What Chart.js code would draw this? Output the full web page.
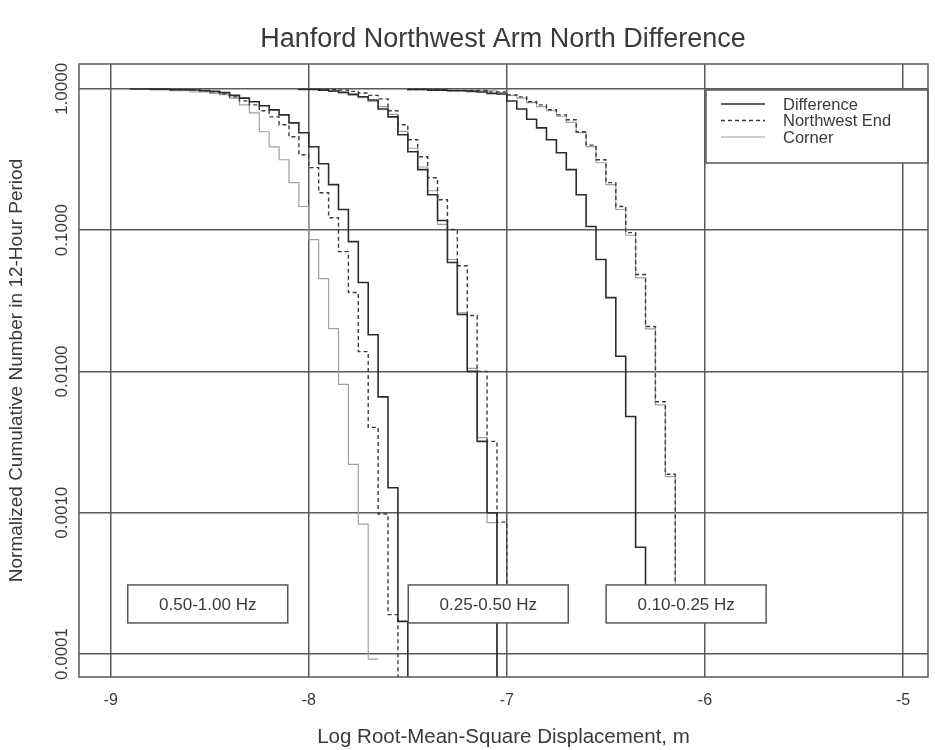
<!DOCTYPE html>
<html><head><meta charset="utf-8">
<script src="https://cdn.jsdelivr.net/npm/chart.js@4.4.1/dist/chart.umd.min.js"></script>
<style>html,body{margin:0;padding:0;background:#fff}</style>
</head><body>
<canvas id="c" width="935" height="750"></canvas>
<script>
// ---------- data ----------
const chartTitle = 'Hanford Northwest Arm North Difference';
const xTitle = 'Log Root-Mean-Square Displacement, m';
const yTitle = 'Normalized Cumulative Number in 12-Hour Period';
const xTicks = [-9, -8, -7, -6, -5];
const yTicks = [0.0001, 0.001, 0.01, 0.1, 1];
const yTickLabels = ['0.0001', '0.0010', '0.0100', '0.1000', '1.0000'];
const seriesNames = ['Difference', 'Northwest End', 'Corner'];
const bandLabels = ['0.50-1.00 Hz', '0.25-0.50 Hz', '0.10-0.25 Hz'];
const bandLabelX = [-8.51, -7.094, -6.095];
const bandLabelY = 0.000226;

// 0.50-1.00 Hz
const hiDiffX = [-8.90,-8.80,-8.70,-8.60,-8.55,-8.50,-8.45,-8.40,-8.35,-8.30,-8.25,-8.20,-8.15,-8.10,-8.05,-8.00,-7.95,-7.90,-7.85,-7.80,-7.75,-7.70,-7.65,-7.60,-7.55,-7.50,-7.45];
const hiDiffY = [1.0,0.997,0.993,0.987,0.981,0.972,0.96,0.94,0.90,0.86,0.81,0.76,0.71,0.655,0.575,0.489,0.389,0.295,0.21,0.14,0.083,0.0426,0.0182,0.0066,0.0015,0.00017,0.000001];
const hiNwX = [-8.80,-8.70,-8.60,-8.55,-8.50,-8.45,-8.40,-8.35,-8.30,-8.25,-8.20,-8.15,-8.10,-8.05,-8.00,-7.95,-7.90,-7.85,-7.80,-7.75,-7.70,-7.65,-7.60,-7.55,-7.50];
const hiNwY = [1.0,0.995,0.99,0.984,0.968,0.952,0.922,0.878,0.823,0.77,0.70,0.634,0.557,0.458,0.342,0.277,0.184,0.1225,0.0705,0.0362,0.0138,0.00402,0.00098,0.00019,0.000001];
const hiCoX = [-8.90,-8.80,-8.70,-8.60,-8.50,-8.45,-8.40,-8.35,-8.30,-8.25,-8.20,-8.15,-8.10,-8.05,-8.00,-7.95,-7.90,-7.85,-7.80,-7.75,-7.70,-7.65];
const hiCoY = [1.0,0.993,0.985,0.97,0.95,0.93,0.91,0.86,0.77,0.677,0.497,0.389,0.315,0.217,0.147,0.0857,0.0454,0.0201,0.0081,0.0022,0.00083,0.000092];

// 0.25-0.50 Hz
const midDiffX = [-8.05,-7.95,-7.90,-7.85,-7.80,-7.75,-7.70,-7.65,-7.60,-7.55,-7.50,-7.45,-7.40,-7.35,-7.30,-7.25,-7.20,-7.15,-7.10,-7.05,-7.00];
const midDiffY = [1.0,0.99,0.98,0.965,0.945,0.915,0.88,0.835,0.72,0.634,0.473,0.359,0.268,0.178,0.117,0.059,0.0253,0.01,0.0032,0.001,0.000001];
const midNwX = [-7.95,-7.85,-7.80,-7.75,-7.70,-7.65,-7.60,-7.55,-7.50,-7.45,-7.40,-7.35,-7.30,-7.25,-7.20,-7.15,-7.10,-7.05,-7.00,-6.95];
const midNwY = [1.0,0.99,0.98,0.96,0.935,0.90,0.85,0.70,0.557,0.436,0.331,0.235,0.164,0.101,0.056,0.0249,0.01,0.0032,0.000857,0.00024];
const midCoX = [-8.05,-7.95,-7.90,-7.85,-7.80,-7.75,-7.70,-7.65,-7.60,-7.55,-7.50,-7.45,-7.40,-7.35,-7.30,-7.25,-7.20,-7.15,-7.10,-7.05,-7.00];
const midCoY = [1.0,0.99,0.975,0.96,0.94,0.905,0.865,0.815,0.75,0.66,0.50,0.38,0.28,0.19,0.11,0.062,0.026,0.0105,0.0034,0.00085,0.000001];

// 0.10-0.25 Hz
const loDiffX = [-7.50,-7.40,-7.30,-7.20,-7.15,-7.10,-7.05,-7.00,-6.95,-6.90,-6.85,-6.80,-6.75,-6.70,-6.65,-6.60,-6.55,-6.50,-6.45,-6.40,-6.35,-6.30,-6.25];
const loDiffY = [1.0,0.99,0.98,0.97,0.96,0.95,0.93,0.92,0.82,0.72,0.61,0.53,0.436,0.353,0.268,0.178,0.106,0.062,0.0333,0.0128,0.0048,0.00057,0.00025];
const loNwX = [-7.50,-7.30,-7.10,-7.00,-6.95,-6.90,-6.85,-6.80,-6.75,-6.70,-6.65,-6.60,-6.55,-6.50,-6.45,-6.40,-6.35,-6.30,-6.25,-6.20,-6.15,-6.10];
const loNwY = [1.0,0.99,0.975,0.952,0.907,0.878,0.81,0.77,0.711,0.655,0.604,0.497,0.40,0.315,0.217,0.147,0.096,0.0485,0.0208,0.0061,0.00187,0.00025];
const loCoX = [-7.50,-7.20,-7.05,-7.00,-6.95,-6.90,-6.85,-6.80,-6.75,-6.70,-6.65,-6.60,-6.55,-6.50,-6.45,-6.40,-6.35,-6.30,-6.25,-6.20,-6.15,-6.10];
const loCoY = [1.0,0.99,0.97,0.94,0.90,0.86,0.80,0.75,0.70,0.64,0.58,0.49,0.39,0.30,0.21,0.14,0.092,0.046,0.02,0.0058,0.0018,0.00025];

// ---------- build ----------
const FONT = '"Liberation Sans", Arial, Helvetica, sans-serif';
const TXT = '#3a3a3a';
const GRID = '#5a5a5a';
const styles = [
  {borderColor:'#2c2c2c', borderWidth:1.6, borderDash:[]},
  {borderColor:'#3c3c3c', borderWidth:1.4, borderDash:[4,3]},
  {borderColor:'#a0a0a0', borderWidth:1.2, borderDash:[]}
];
const pts = (xs, ys) => xs.map((x, i) => ({x: x, y: ys[i]}));
const bands = [
  [[hiDiffX, hiDiffY], [hiNwX, hiNwY], [hiCoX, hiCoY]],
  [[midDiffX, midDiffY], [midNwX, midNwY], [midCoX, midCoY]],
  [[loDiffX, loDiffY], [loNwX, loNwY], [loCoX, loCoY]]
];
const datasets = [];
[0, 1, 2].forEach(s => {
  bands.forEach(b => {
    datasets.push(Object.assign({
      label: seriesNames[s],
      data: pts(b[s][0], b[s][1]),
      stepped: 'after',
      pointRadius: 0,
      fill: false,
      tension: 0
    }, styles[s]));
  });
});

const decorPlugin = {
  id: 'decor',
  afterDatasetsDraw(chart) {
    const ctx = chart.ctx, ca = chart.chartArea;
    const xs = chart.scales.x, ys = chart.scales.y;
    ctx.save();
    // title
    ctx.font = '27px ' + FONT;
    ctx.textAlign = 'center';
    ctx.textBaseline = 'middle';
    ctx.fillStyle = TXT;
    ctx.fillText(chartTitle, 503, 40);
    // band label boxes
    ctx.font = '17px ' + FONT;
    bandLabels.forEach((t, i) => {
      const cx = xs.getPixelForValue(bandLabelX[i]);
      const cy = ys.getPixelForValue(bandLabelY);
      const w = 160, h = 38;
      ctx.fillStyle = '#fff';
      ctx.fillRect(cx - w / 2, cy - h / 2, w, h);
      ctx.strokeStyle = GRID; ctx.lineWidth = 1.5;
      ctx.strokeRect(cx - w / 2, cy - h / 2, w, h);
      ctx.fillStyle = TXT;
      ctx.fillText(t, cx, cy + 1);
    });
    // legend
    const lx = 706, ly = 90, lr = ca.right, lb = 163;
    ctx.fillStyle = '#fff';
    ctx.fillRect(lx, ly, lr - lx, lb - ly);
    ctx.strokeStyle = GRID; ctx.lineWidth = 1.5;
    ctx.strokeRect(lx, ly, lr - lx, lb - ly);
    ctx.font = '16.5px ' + FONT;
    ctx.textAlign = 'left';
    seriesNames.forEach((n, i) => {
      const y = 104 + i * 16.5;
      const st = styles[i];
      ctx.strokeStyle = st.borderColor; ctx.lineWidth = st.borderWidth;
      ctx.setLineDash(st.borderDash);
      ctx.beginPath(); ctx.moveTo(721, y); ctx.lineTo(765, y); ctx.stroke();
      ctx.setLineDash([]);
      ctx.fillStyle = TXT;
      ctx.fillText(n, 783, y + 1);
    });
    // frame
    ctx.strokeStyle = GRID; ctx.lineWidth = 1.5;
    ctx.strokeRect(ca.left, ca.top, ca.right - ca.left, ca.bottom - ca.top);
    // y tick labels (rotated)
    ctx.font = '17px ' + FONT;
    ctx.textAlign = 'center';
    ctx.textBaseline = 'middle';
    ctx.fillStyle = TXT;
    yTicks.forEach((v, i) => {
      const py = ys.getPixelForValue(v);
      ctx.save();
      ctx.translate(62, py);
      ctx.rotate(-Math.PI / 2);
      ctx.fillText(yTickLabels[i], 0, 0);
      ctx.restore();
    });
    ctx.restore();
  }
};

new Chart(document.getElementById('c'), {
  type: 'line',
  data: {datasets: datasets},
  options: {
    responsive: false,
    animation: false,
    devicePixelRatio: 1,
    layout: {padding: {left: 0, right: 7, top: 64, bottom: 0}},
    plugins: {
      legend: {display: false},
      tooltip: {enabled: false},
      title: {display: false}
    },
    scales: {
      x: {
        type: 'linear', min: -9.16, max: -4.874,
        afterBuildTicks: s => { s.ticks = xTicks.map(v => ({value: v})); },
        afterFit: s => { s.height = 73; },
        grid: {color: GRID, lineWidth: 1.5, drawTicks: false},
        border: {display: false},
        ticks: {color: TXT, font: {family: FONT, size: 16}, padding: 14, maxRotation: 0,
                callback: v => String(v)},
        title: {display: true, text: xTitle, color: TXT, font: {family: FONT, size: 20.5},
                padding: {top: 0, bottom: 0}}
      },
      y: {
        type: 'logarithmic', min: 0.0000687, max: 1.5,
        afterBuildTicks: s => { s.ticks = yTicks.map(v => ({value: v})); },
        afterFit: s => { s.width = 79; },
        grid: {color: GRID, lineWidth: 1.5, drawTicks: false},
        border: {display: false},
        ticks: {display: false},
        title: {display: true, text: yTitle, color: TXT, font: {family: FONT, size: 19},
                padding: {top: 5.6, bottom: 0}}
      }
    }
  },
  plugins: [decorPlugin]
});
</script>
</body></html>
